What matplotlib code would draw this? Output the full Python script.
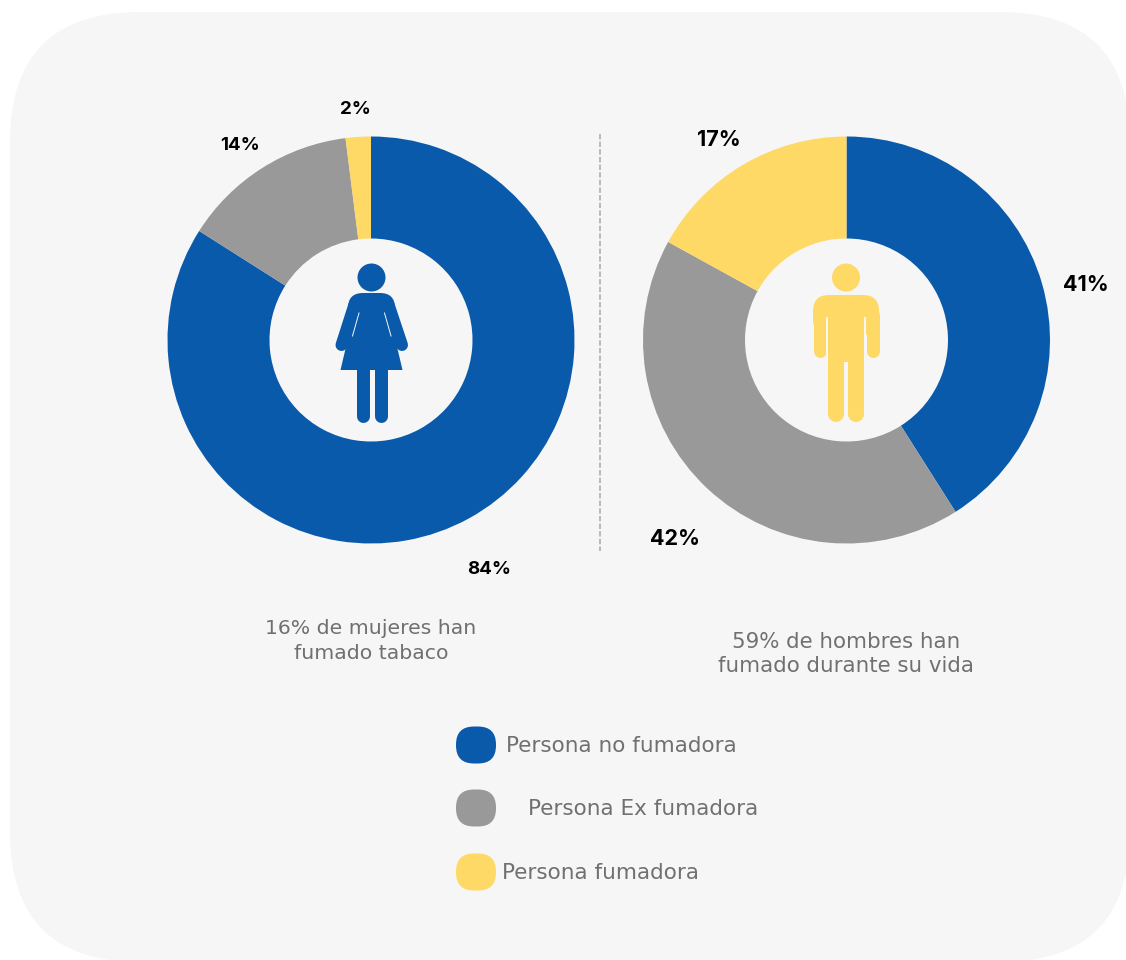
import matplotlib
matplotlib.use("Agg")
import matplotlib.pyplot as plt
from matplotlib.patches import Circle, FancyBboxPatch, Polygon, Rectangle

plt.rcParams['font.family'] = ['DejaVu Sans']

W, H = 1126, 960
BG = '#f6f6f6'
BLUE = '#0a5aab'
GRAY = '#999999'
YELLOW = '#ffd966'
TXT = '#707070'

categories = ['Persona no fumadora', 'Persona Ex fumadora', 'Persona fumadora']
mujeres = [84, 14, 2]
hombres = [41, 42, 17]
caption_m = '16% de mujeres han\nfumado tabaco'
caption_h = '59% de hombres han\nfumado durante su vida'
colors = [BLUE, GRAY, YELLOW]


def yy(y):
    # picture coords have y going down
    return H - y


def px(n):
    return n * 72 / 100


def limb(ax, x0, y0, x1, y1, w, color):
    ax.plot([x0, x1], [yy(y0), yy(y1)], color=color, lw=px(w),
            solid_capstyle='round', zorder=5)


def woman(ax, c):
    ax.add_patch(Circle((371.5, yy(277.5)), 14, color=c, lw=0, zorder=5))
    ax.add_patch(FancyBboxPatch((348, yy(322)), 47, 29, boxstyle='round,pad=0,rounding_size=15',
                                fc=c, ec='none', zorder=5))
    ax.add_patch(Polygon([(357, yy(300)), (386, yy(300)), (402.5, yy(370)), (340.5, yy(370))],
                         fc=c, ec='none', zorder=5))
    limb(ax, 354, 306, 341.5, 345, 12, c)
    limb(ax, 389, 306, 402, 345, 12, c)
    # slits between arms and dress
    ax.plot([359, 352.5], [yy(313), yy(336)], color=BG, lw=0.7, zorder=6)
    ax.plot([384.5, 391], [yy(313), yy(336)], color=BG, lw=0.7, zorder=6)
    limb(ax, 362.5, 368, 362.5, 416, 13, c)
    limb(ax, 381, 368, 381, 416, 13, c)


def man(ax, c):
    ax.add_patch(Circle((846, yy(277.5)), 14, color=c, lw=0, zorder=5))
    ax.add_patch(FancyBboxPatch((813, yy(335)), 66, 40, boxstyle='round,pad=0,rounding_size=16',
                                fc=c, ec='none', zorder=5))
    ax.add_patch(Rectangle((828, yy(362)), 36, 55, fc=c, ec='none', zorder=5))
    ax.add_patch(Rectangle((826, yy(357)), 2, 40, fc=BG, ec='none', zorder=6))
    ax.add_patch(Rectangle((864, yy(357)), 2, 40, fc=BG, ec='none', zorder=6))
    limb(ax, 819.5, 315, 819.5, 351, 13, c)
    limb(ax, 872.5, 315, 872.5, 351, 13, c)
    limb(ax, 836, 360, 836, 414, 16, c)
    limb(ax, 856, 360, 856, 414, 16, c)


fig = plt.figure(figsize=(W / 100, H / 100), dpi=100, facecolor='white')
ax = fig.add_axes([0, 0, 1, 1])

# panel with big round corners, right edge runs just past the image
ax.add_patch(FancyBboxPatch((10, -2), 1120, 950, boxstyle='round,pad=0,rounding_size=130',
                            fc=BG, ec='none', zorder=0))

for vals, cx in [(mujeres, 371), (hombres, 846.5)]:
    ax.pie(vals, colors=colors, center=(cx, yy(340)), radius=203.5, startangle=90,
           counterclock=False, wedgeprops={'width': 102, 'linewidth': 0})

ax.set_xlim(0, W)
ax.set_ylim(0, H)
ax.set_aspect('auto')
ax.axis('off')

woman(ax, BLUE)
man(ax, YELLOW)

ax.plot([600, 600], [yy(134), yy(551)], color='#a8a8a8', lw=1.1, ls=(0, (3.5, 1.5)))

bold = ['Inter', 'DejaVu Sans']
for v, x, y in [(mujeres[0], 489, 569), (mujeres[1], 240, 146), (mujeres[2], 355, 109)]:
    ax.text(x, yy(y), f'{v}%', ha='center', va='center', fontsize=13.5, fontweight='bold',
            color='black', family=bold)
for v, x, y in [(hombres[0], 1086, 285), (hombres[1], 675, 539), (hombres[2], 719, 140)]:
    ax.text(x, yy(y), f'{v}%', ha='center', va='center', fontsize=15.5, fontweight='bold',
            color='black', family=bold)

ax.text(371, yy(641), caption_m, ha='center', va='center', fontsize=14.7, color=TXT, linespacing=1.4)
ax.text(846, yy(654), caption_h, ha='center', va='center', fontsize=15.4, color=TXT, linespacing=1.25)

legend_y = [745, 808, 872]
legend_x = [506, 528, 502]
for name, c, ly, lx in zip(categories, colors, legend_y, legend_x):
    ax.add_patch(FancyBboxPatch((456, yy(ly + 18.5)), 40, 37, boxstyle='round,pad=0,rounding_size=18',
                                fc=c, ec='none', zorder=4))
    ax.text(lx, yy(ly + 1), name, ha='left', va='center', fontsize=15.5, color=TXT)

fig.savefig('out.png', dpi=100)
